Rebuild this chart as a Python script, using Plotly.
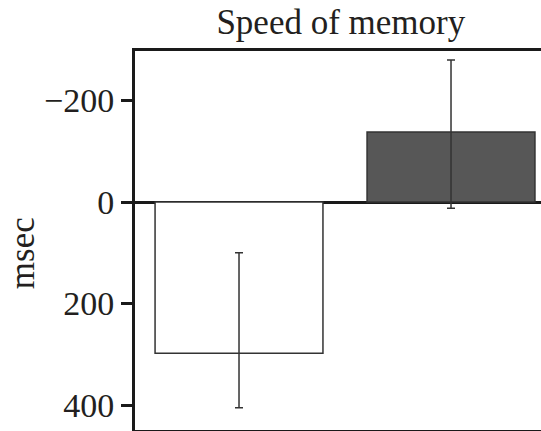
import plotly.graph_objects as go

categories = [0, 1]
values = [298, -138]
err_plus = [107, 150]
err_minus = [198, 142]
fill_colors = ["#ffffff", "#575757"]
tick_vals = [-200, 0, 200, 400]
tick_text = ["\u2212200", "0", "200", "400"]

FONT = "Liberation Serif"
INK = "#231f20"

fig = go.Figure()
fig.add_trace(go.Bar(
    x=categories, y=values, width=0.792,
    marker=dict(color=fill_colors, line=dict(color="#333333", width=1.5)),
    error_y=dict(type="data", symmetric=False, array=err_plus, arrayminus=err_minus,
                 color="#333333", thickness=1.5, width=4),
    showlegend=False,
))

fig.update_layout(
    width=541, height=431,
    margin=dict(l=135, r=0, t=51, b=1),
    paper_bgcolor="white", plot_bgcolor="white",
    title=dict(text="Speed of memory", x=0.63, xanchor="center", y=0.949, yanchor="middle",
               font=dict(family=FONT, size=35, color=INK)),
    font=dict(family=FONT, size=34, color=INK),
    xaxis=dict(range=[-0.4906, 1.4245], showticklabels=False, ticks="", showgrid=False,
               zeroline=False, showline=True, linecolor="#1a1a1a", linewidth=3, mirror=True),
    yaxis=dict(range=[449, -297.5], tickvals=tick_vals, ticktext=tick_text,
               ticks="outside", ticklen=11, tickwidth=3, tickcolor="#1a1a1a",
               showgrid=False, zeroline=True, zerolinecolor="#1a1a1a", zerolinewidth=3,
               showline=True, linecolor="#1a1a1a", linewidth=3, mirror=False,
               tickfont=dict(family=FONT, size=34, color=INK)),
    annotations=[dict(text="msec", xref="paper", yref="paper", x=-0.278, y=0.467,
                      textangle=-90, showarrow=False, xanchor="center", yanchor="middle",
                      font=dict(family=FONT, size=35, color=INK))],
)

fig.write_html("out.html", config={"displayModeBar": False},
               post_script="document.body.style.margin='0';document.body.style.overflow='hidden';")
